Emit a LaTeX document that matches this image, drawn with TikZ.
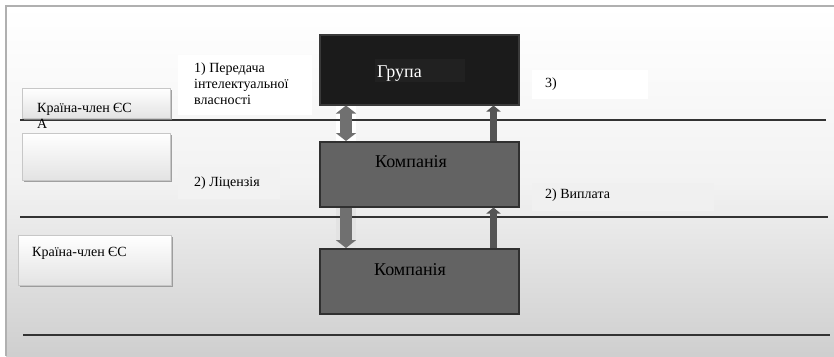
\documentclass[tikz,border=0pt]{standalone}
\usepackage{fontspec}
\setmainfont{Liberation Serif}
\usetikzlibrary{shadows,arrows.meta,calc}
\definecolor{groupfill}{HTML}{1B1B1B}
\definecolor{groupline}{HTML}{3A3A3A}
\definecolor{compfill}{HTML}{636363}
\definecolor{compline}{HTML}{303030}
\definecolor{sepline}{HTML}{333333}
\definecolor{arrowlight}{HTML}{707070}
\definecolor{arrowdark}{HTML}{555555}
\definecolor{frameline}{HTML}{B0B0B0}
\begin{document}
\begin{tikzpicture}[x=1pt,y=-1pt,
  bigbox/.style={draw, line width=1.5pt, anchor=north west, inner sep=0pt},
  countrybox/.style={draw=black!22, top color=white, bottom color=black!11, anchor=north west,
    inner sep=0pt, drop shadow={shadow xshift=1.5pt, shadow yshift=-2pt, fill=black!45, opacity=0.8}},
  labelbox/.style={anchor=north west, inner sep=0pt},
  smalltext/.style={font=\fontsize{14}{16}\selectfont, align=left, anchor=north west, inner sep=0pt},
  bigtext/.style={font=\fontsize{18}{20}\selectfont, anchor=west, inner sep=0pt},
  sep/.style={draw=sepline, line width=1.5pt},
  wideup/.style={line width=12pt, draw=arrowlight, -{Triangle[width=20pt,length=8pt]}},
  widedouble/.style={line width=12pt, draw=arrowlight, {Triangle[width=20pt,length=8pt]}-{Triangle[width=20pt,length=8pt]}},
  narrowup/.style={line width=7pt, draw=arrowdark, -{Triangle[width=14pt,length=6pt]}}
]
\useasboundingbox (0,0) rectangle (834,356);
% background
\shade[top color=white, bottom color=black!19, middle color=black!5] (6,6) rectangle (834,356);
\draw[frameline, line width=1.5pt] (6,356) -- (6,6) -- (834,6);

% label boxes
\node[labelbox, fill=white, minimum width=134pt, minimum height=60pt] (l1box) at (178,55) {};
\node[labelbox, fill=white, minimum width=116pt, minimum height=29pt] (l3box) at (532,70) {};
\node[labelbox, fill=black!5, minimum width=102pt, minimum height=32pt] (l2box) at (178,167) {};
\node[labelbox, fill=black!6, minimum width=182pt, minimum height=28pt] (l4box) at (532,183) {};

% patches behind the left arrows
\fill[white] (336,104) rectangle (356,141);
\fill[black!11] (336,206) rectangle (356,248);

% separator lines
\coordinate (s1a) at (20,120); \coordinate (s1b) at (826,120);
\coordinate (s2a) at (20,217); \coordinate (s2b) at (828,217);
\coordinate (s3a) at (23,335); \coordinate (s3b) at (830,335);
\draw[sep] (s1a) -- (s1b);
\draw[sep] (s2a) -- (s2b);
\draw[sep] (s3a) -- (s3b);

% country boxes
\node[countrybox, minimum width=148pt, minimum height=30pt] (m1) at (22,88) {};
\node[countrybox, minimum width=148pt, minimum height=47pt] (m2) at (22,133) {};
\node[countrybox, minimum width=153pt, minimum height=50pt] (m3) at (18,235) {};
\node[smalltext] (m1t) at (37,103) {Країна-член ЄС\\А};
\node[smalltext] (m3t) at (32,247) {Країна-член ЄС};

% main boxes
\node[bigbox, draw=groupline, fill=groupfill, minimum width=199pt, minimum height=70pt] (g) at (319,34) {};
\node[bigbox, draw=compline, fill=compfill, minimum width=199pt, minimum height=65pt] (c1) at (319,141) {};
\node[bigbox, draw=compline, fill=compfill, minimum width=199pt, minimum height=65pt] (c2) at (319,248) {};
\node[anchor=north west, inner sep=0pt, fill=black!87, minimum width=90pt, minimum height=23pt] (gpatch) at (375,59) {};
\node[bigtext, text=white] (gt) at (377,73.5) {Група};
\node[bigtext] (c1t) at (375,162) {Компанія};
\node[bigtext] (c2t) at (374,269.5) {Компанія};

% arrows
\draw[widedouble] ($(g.south west)+(27,0)$) -- ($(c1.north west)+(27,0)$);
\draw[narrowup] ($(c1.north west)+(174.5,0)$) -- ($(g.south west)+(174.5,0)$);
\draw[wideup] ($(c1.south west)+(27,0)$) -- ($(c2.north west)+(27,0)$);
\draw[narrowup] ($(c2.north west)+(174.5,0)$) -- ($(c1.south west)+(174.5,0)$);

% labels
\node[smalltext] (l1) at (194,62.5) {1) Передача\\інтелектуальної\\власності};
\node[smalltext] (l3) at (545,78) {3)};
\node[smalltext] (l2) at (194,177) {2) Ліцензія};
\node[smalltext] (l4) at (545,189) {2) Виплата};
\end{tikzpicture}
\end{document}
